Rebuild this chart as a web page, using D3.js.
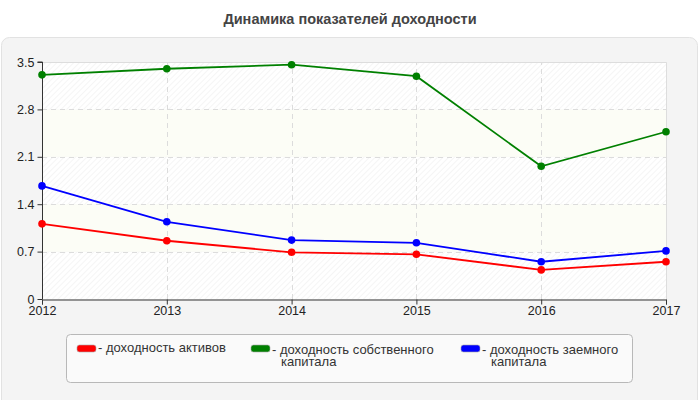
<!DOCTYPE html>
<html>
<head>
<meta charset="utf-8">
<script src="https://cdn.jsdelivr.net/npm/d3@7"></script>
<style>
  body { margin: 0; background: #fff; }
  svg { display: block; font-family: Arial, "Liberation Sans", sans-serif; }
</style>
</head>
<body>
<svg id="chart" width="700" height="400"></svg>
<script>
const years = [2012, 2013, 2014, 2015, 2016, 2017];
const yTicks = [0, 0.7, 1.4, 2.1, 2.8, 3.5];
const assets = [1.11, 0.86, 0.69, 0.66, 0.43, 0.55];
const equity = [3.31, 3.40, 3.46, 3.29, 1.96, 2.47];
const borrowed = [1.67, 1.14, 0.87, 0.83, 0.55, 0.71];
const seriesNames = [["- доходность активов"], ["- доходность собственного", "капитала"], ["- доходность заемного", "капитала"]];
const seriesColors = ["#ff0000", "#008000", "#0000ff"];

const series = [assets, equity, borrowed];

let width = 700, height = 400;
let margin = {left: 42, right: 34, top: 62, bottom: 101};
let svg = d3.select("#chart");

// hatch pattern for the bands
let defs = svg.append("defs");
let pat = defs.append("pattern")
    .attr("id", "hatch")
    .attr("patternUnits", "userSpaceOnUse")
    .attr("width", 4).attr("height", 4)
    .attr("patternTransform", "rotate(45)");
pat.append("rect").attr("width", 4).attr("height", 4).attr("fill", "#ffffff");
pat.append("line").attr("x1", 0).attr("y1", 0).attr("x2", 0).attr("y2", 4)
    .attr("stroke", "#efefef").attr("stroke-width", 1.2);

// title
svg.append("text")
    .attr("x", width / 2).attr("y", 24)
    .attr("text-anchor", "middle")
    .style("font-size", "14.5px").style("font-weight", "bold").style("fill", "#444")
    .text("Динамика показателей доходности");

// outer panel
svg.append("rect")
    .attr("x", 1.5).attr("y", 37.5).attr("width", 696).attr("height", 372)
    .attr("rx", 8)
    .attr("fill", "#f4f4f4").attr("stroke", "#e2e2e2");

let x = d3.scaleLinear().domain([2012, 2017]).range([margin.left, width - margin.right]);
let y = d3.scaleLinear().domain([0, 3.5]).range([height - margin.bottom, margin.top]);

// bands
for (let i = 0; i < yTicks.length - 1; i++) {
    svg.append("rect")
        .attr("x", x(2012)).attr("y", y(yTicks[i + 1]))
        .attr("width", x(2017) - x(2012)).attr("height", y(yTicks[i]) - y(yTicks[i + 1]))
        .attr("fill", i % 2 === 0 ? "url(#hatch)" : "#fcfdf6");
}

// grid
svg.append("g").selectAll("line").data(yTicks.slice(1, -1)).enter().append("line")
    .attr("x1", x(2012)).attr("x2", x(2017))
    .attr("y1", d => Math.round(y(d)) + 0.5).attr("y2", d => Math.round(y(d)) + 0.5)
    .attr("stroke", "#dcdcdc").attr("stroke-dasharray", "5,4");
svg.append("g").selectAll("line").data(years.slice(1, -1)).enter().append("line")
    .attr("x1", d => Math.round(x(d)) + 0.5).attr("x2", d => Math.round(x(d)) + 0.5)
    .attr("y1", y(0)).attr("y2", y(3.5))
    .attr("stroke", "#dcdcdc").attr("stroke-dasharray", "5,4");

// top & right frame
svg.append("path")
    .attr("d", `M${x(2012)},${Math.round(y(3.5)) + 0.5}H${Math.round(x(2017)) + 0.5}V${y(0)}`)
    .attr("fill", "none").attr("stroke", "#dddddd");

// axes
let yAxis = svg.append("g")
    .attr("transform", `translate(${Math.round(x(2012)) + 0.5},0)`)
    .call(d3.axisLeft(y).tickValues(yTicks).tickFormat(d => d).tickSize(5).tickPadding(3));
let xAxis = svg.append("g")
    .attr("transform", `translate(0,${Math.round(y(0)) + 0.5})`)
    .call(d3.axisBottom(x).tickValues(years).tickFormat(d3.format("d")).tickSize(5).tickPadding(2));
[yAxis, xAxis].forEach(a => {
    a.select(".domain").attr("stroke", "#333");
    a.selectAll(".tick line").attr("stroke", "#333");
    a.selectAll("text").style("font-size", "12.5px").style("fill", "#222")
        .style("font-family", "Arial, 'Liberation Sans', sans-serif");
});
yAxis.select(".domain").attr("d", `M-5,${y(3.5)}H0V${y(0)}`);

// lines
let line = d3.line().x((d, i) => x(years[i])).y(d => y(d));
series.forEach((s, k) => {
    svg.append("path").datum(s)
        .attr("d", line)
        .attr("fill", "none").attr("stroke", seriesColors[k]).attr("stroke-width", 1.8);
    svg.append("g").selectAll("circle").data(s).enter().append("circle")
        .attr("cx", (d, i) => x(years[i])).attr("cy", d => y(d))
        .attr("r", 3.8).attr("fill", seriesColors[k]);
});

// legend
svg.append("rect")
    .attr("x", 66.5).attr("y", 334.5).attr("width", 566).attr("height", 48)
    .attr("rx", 4)
    .attr("fill", "#fafafa").attr("stroke", "#b8b8b8");
let legendX = [77, 251, 461];
seriesNames.forEach((lines, k) => {
    let g = svg.append("g").attr("transform", `translate(${legendX[k]},0)`);
    g.append("rect")
        .attr("x", 0).attr("y", 345).attr("width", 19).attr("height", 7).attr("rx", 2.5)
        .attr("fill", seriesColors[k]).attr("stroke", "#aaa").attr("stroke-width", 0.6);
    let t = g.append("text")
        .attr("y", k === 0 ? 352 : 354)
        .style("font-size", "13px").style("fill", "#333");
    lines.forEach((ln, j) => {
        t.append("tspan").attr("x", j === 0 ? 21 : 30).attr("dy", j === 0 ? 0 : 12).text(ln);
    });
});
</script>
</body>
</html>
